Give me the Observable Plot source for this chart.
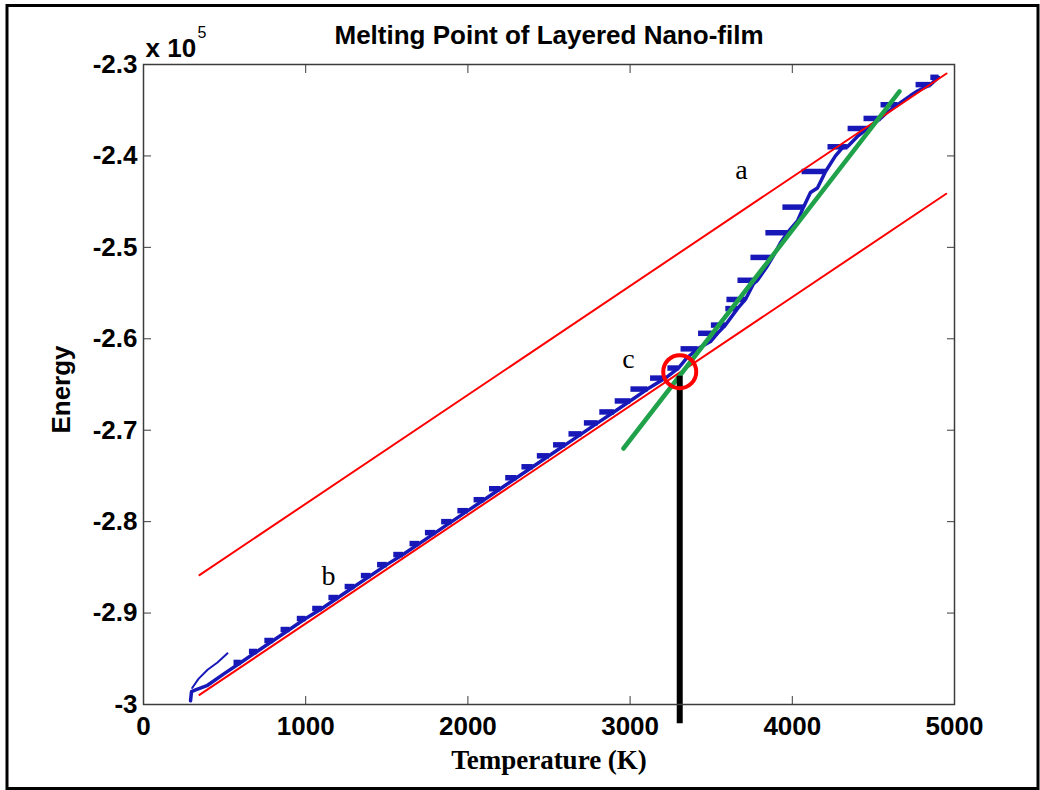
<!DOCTYPE html>
<html>
<head>
<meta charset="utf-8">
<script src="https://cdn.jsdelivr.net/npm/d3@7"></script>
<script src="https://cdn.jsdelivr.net/npm/@observablehq/plot@0.6"></script>
<style>
  html, body { margin: 0; padding: 0; background: #fff; overflow: hidden; }
</style>
</head>
<body>
<div id="chart"></div>
<script>
// Axis ticks
const xTicks = [0, 1000, 2000, 3000, 4000, 5000];
const yTicks = [-3, -2.9, -2.8, -2.7, -2.6, -2.5, -2.4, -2.3];

// Heating run: temperature (K), energy (x 1e5) and the length (K) of the
// short temperature drop recorded at each step
const stepT = [290, 296, 321, 395, 500, 600, 700, 800, 900, 1000, 1100, 1200, 1300, 1400, 1500,
  1600, 1700, 1800, 1900, 2000, 2100, 2200, 2300, 2400, 2500, 2600, 2700, 2800, 2900, 3000,
  3107, 3218, 3298, 3350, 3416, 3496, 3539, 3588, 3662, 3711, 3760, 3785, 3840, 3878, 3927,
  3970, 4032, 4069, 4112, 4155, 4205, 4266, 4310, 4340, 4400, 4464, 4544, 4587, 4649, 4729,
  4772, 4852, 4901];
const stepE = [-2.996, -2.986, -2.984, -2.979, -2.966, -2.954, -2.942, -2.930, -2.918, -2.906,
  -2.895, -2.883, -2.871, -2.859, -2.847, -2.836, -2.824, -2.812, -2.800, -2.788, -2.776,
  -2.764, -2.752, -2.740, -2.728, -2.716, -2.704, -2.692, -2.680, -2.668, -2.655, -2.643,
  -2.632, -2.621, -2.611, -2.603, -2.594, -2.585, -2.567, -2.557, -2.540, -2.536, -2.522,
  -2.511, -2.495, -2.484, -2.471, -2.456, -2.440, -2.435, -2.417, -2.400, -2.391, -2.390,
  -2.379, -2.370, -2.359, -2.352, -2.344, -2.334, -2.329, -2.322, -2.314];
const stepDrop = [0, 0, 0, 0, 0, 45, 50, 55, 55, 55, 60, 60, 60, 60, 60,
  60, 60, 65, 65, 65, 65, 70, 70, 70, 75, 75, 80, 85, 90, 95,
  105, 95, 68, 0, 105, 0, 120, 90, 75, 117, 0, 123, 0, 136, 0,
  136, 0, 130, 0, 0, 148, 0, 0, 123, 0, 123, 105, 0, 105, 0,
  0, 92, 50];

// Initial relaxation branch at the start of the run
const startT = [300, 339, 395, 456, 518];
const startE = [-2.982, -2.972, -2.962, -2.954, -2.944];

// Linear fits: liquid (a), solid (b) and the transition region
const fitAT = [345, 4951], fitAE = [-2.8585, -2.3098];
const fitBT = [345, 4949], fitBE = [-2.9895, -2.4414];
const fitCT = [2959, 4661], fitCE = [-2.720, -2.3295];

// Melting point marker
const meltT = 3306, meltE = -2.636, meltTopE = -2.641, meltBottomE = -3.021;

// Annotations
const noteText = ["a", "b", "c"];
const noteT = [3687, 1141, 2990];
const noteE = [-2.415, -2.859, -2.622];

const sans = "'Liberation Sans', Arial, Helvetica, sans-serif";
const serif = "'Liberation Serif', 'Times New Roman', serif";
const blue = "#1818b8";

const run = stepT.map((T, i) => ({T, E: stepE[i], drop: stepDrop[i]}));
const drops = run.filter(d => d.drop > 0).map(d => ({T1: d.T - d.drop, T2: d.T, E: d.E}));
const start = startT.map((T, i) => ({T, E: startE[i]}));
const fit = (Ts, Es) => Ts.map((T, i) => ({T, E: Es[i]}));

const chart = Plot.plot({
  width: 1040,
  height: 790,
  marginLeft: 143,
  marginRight: 86,
  marginTop: 64,
  marginBottom: 86,
  style: {background: "#fff", overflow: "visible"},
  x: {domain: [0, 5000]},
  y: {domain: [-3, -2.3]},
  marks: [
    Plot.link(drops, {x1: "T1", x2: "T2", y1: "E", y2: "E", stroke: blue, strokeWidth: 5.5}),
    Plot.line(run, {x: "T", y: "E", stroke: blue, strokeWidth: 3.5, strokeLinejoin: "round"}),
    Plot.line(start, {x: "T", y: "E", stroke: blue, strokeWidth: 2}),
    Plot.line(fit(fitAT, fitAE), {x: "T", y: "E", stroke: "#ff0000", strokeWidth: 2}),
    Plot.line(fit(fitBT, fitBE), {x: "T", y: "E", stroke: "#ff0000", strokeWidth: 2}),
    Plot.line(fit(fitCT, fitCE), {x: "T", y: "E", stroke: "#1fa24a", strokeWidth: 4.5}),
    Plot.ruleX([meltT], {x: d => d, y1: meltTopE, y2: meltBottomE, stroke: "#000", strokeWidth: 6}),
    Plot.dot([meltT], {x: d => d, y: () => meltE, r: 16.5, stroke: "#ff0000", strokeWidth: 4, fill: "none"}),
    Plot.text(noteText, {x: (d, i) => noteT[i], y: (d, i) => noteE[i], text: d => d,
      fontFamily: serif, fontSize: 28, fill: "#000"}),
    Plot.axisX({anchor: "bottom", ticks: xTicks, tickFormat: d => String(d), tickSize: -8,
      tickPadding: 20.5, label: null, fontSize: 26, fontWeight: "bold", fontFamily: sans,
      stroke: "#3c3c3c", fill: "#000"}),
    Plot.axisX({anchor: "top", ticks: xTicks, tickFormat: () => "", tickSize: -8, label: null,
      stroke: "#3c3c3c"}),
    Plot.axisY({anchor: "left", ticks: yTicks, tickFormat: d => String(d), tickSize: -8,
      tickPadding: 14, label: null, fontSize: 26, fontWeight: "bold", fontFamily: sans,
      stroke: "#3c3c3c", fill: "#000"}),
    Plot.axisY({anchor: "right", ticks: yTicks, tickFormat: () => "", tickSize: -8, label: null,
      stroke: "#3c3c3c"}),
    Plot.frame({stroke: "#3c3c3c", strokeWidth: 1.5}),
    Plot.text(["Melting Point of Layered Nano-film"], {frameAnchor: "top", dy: -39, text: d => d,
      fontFamily: sans, fontWeight: "bold", fontSize: 26, fill: "#000"}),
    Plot.text(["x 10"], {frameAnchor: "top-left", textAnchor: "start", dx: 2, dy: -26, text: d => d,
      fontFamily: sans, fontWeight: "bold", fontSize: 26, fill: "#000"}),
    Plot.text(["5"], {frameAnchor: "top-left", textAnchor: "start", dx: 54, dy: -38, text: d => d,
      fontFamily: sans, fontSize: 16, fill: "#000"}),
    Plot.text(["Temperature (K)"], {frameAnchor: "bottom", dy: 64, text: d => d,
      fontFamily: serif, fontWeight: "bold", fontSize: 27, fill: "#000", letterSpacing: 2}),
    Plot.text(["Energy"], {frameAnchor: "left", textAnchor: "middle", rotate: -90, dx: -82, dy: 5,
      text: d => d, fontFamily: sans, fontWeight: "bold", fontSize: 26, fill: "#000"})
  ]
});

// Figure border
d3.select(chart).append("rect")
  .attr("x", 7).attr("y", 5.5).attr("width", 1031).attr("height", 783)
  .attr("fill", "none").attr("stroke", "#000").attr("stroke-width", 3);

document.getElementById("chart").appendChild(chart);
</script>
</body>
</html>
